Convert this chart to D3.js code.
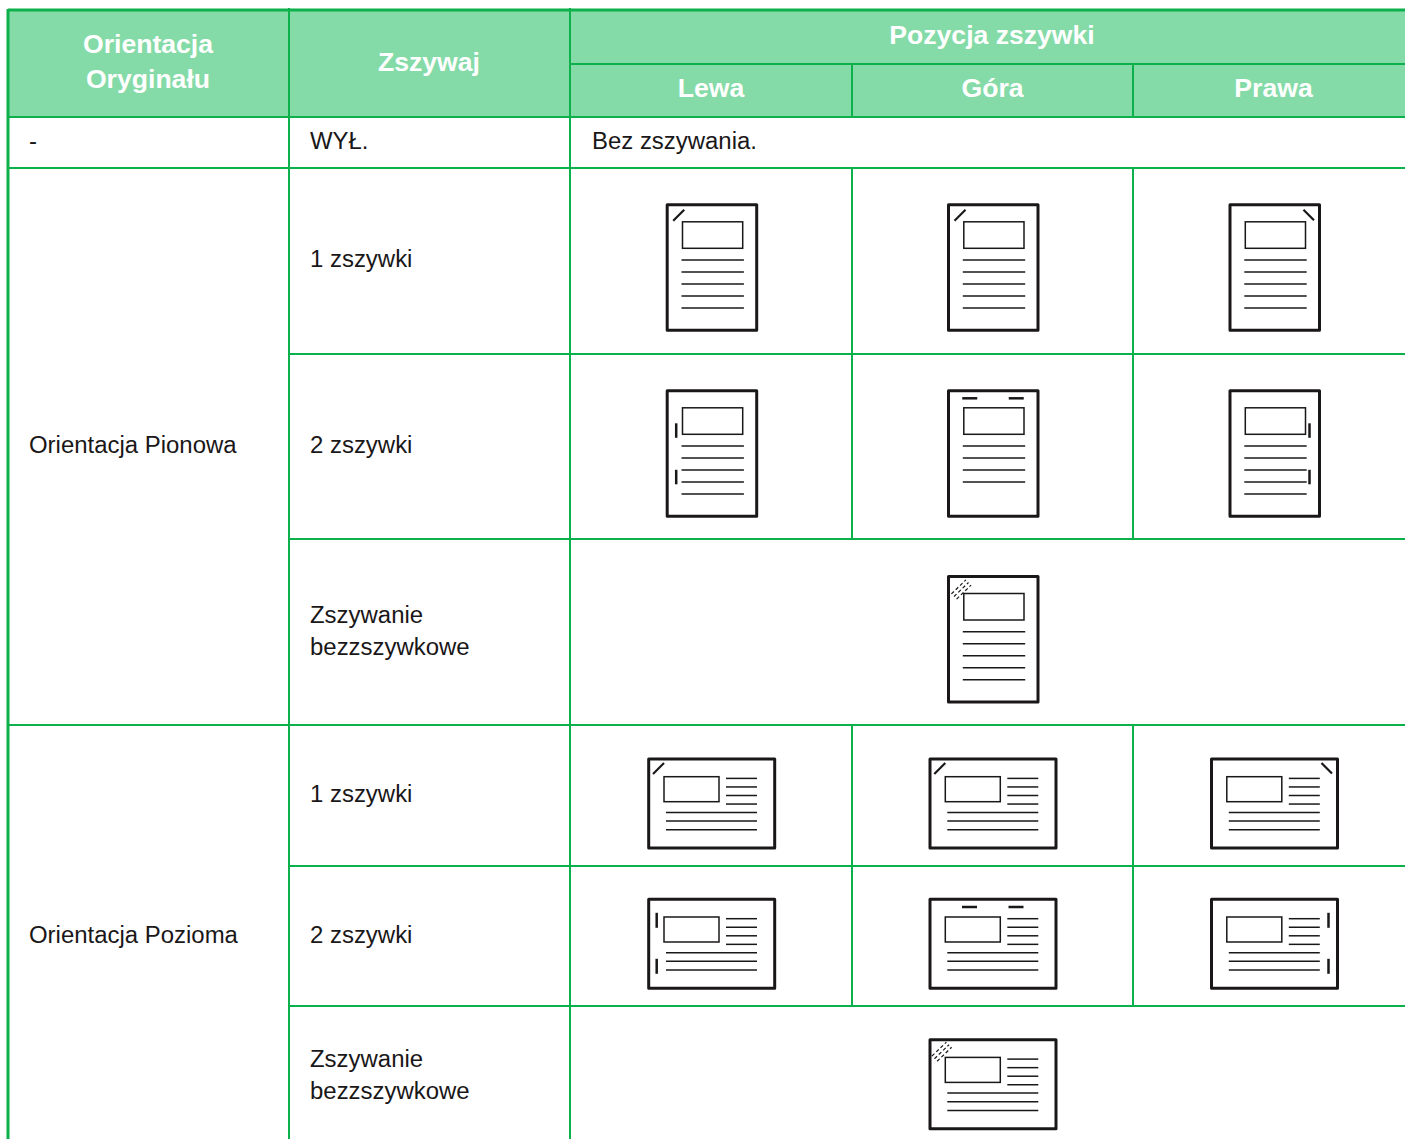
<!DOCTYPE html>
<html>
<head>
<meta charset="utf-8">
<script src="https://cdn.jsdelivr.net/npm/d3@7"></script>
<style>
  html, body { margin: 0; padding: 0; background: #fff; overflow: hidden; }
  text { font-family: "Liberation Sans", Arial, sans-serif; }
</style>
</head>
<body>
<svg id="chart" width="1405" height="1139"></svg>
<script>
// table content
const columns = ["orientation", "staple", "left", "top", "right"];
const positions = ["left", "top", "right"];
const positionLabels = ["Lewa", "Góra", "Prawa"];
const rowKeys = ["off", "p1", "p2", "pNone", "l1", "l2", "lNone"];
const stapleLabels = ["WYŁ.", "1 zszywki", "2 zszywki", "Zszywanie\nbezzszywkowe", "1 zszywki", "2 zszywki", "Zszywanie\nbezzszywkowe"];
const orientationLabels = ["Orientacja Pionowa", "Orientacja Pozioma"];
const iconStaples = [1, 2];

const svg = d3.select("#chart");
const lineColor = "#0DB14B";
const headColor = "#85DBA8";
const inkColor = "#1A1718";

// column + row edges, measured from the page
const x = d3.scaleOrdinal().domain([...columns, "end"]).range([8, 289, 570, 852, 1133, 1420]);
const y = d3.scaleOrdinal().domain([...rowKeys, "end"]).range([117, 168, 354, 539, 725, 866, 1006, 1150]);
const nextRow = (k) => [...rowKeys, "end"][rowKeys.indexOf(k) + 1];

const head = svg.append("g");
const grid = svg.append("g").attr("stroke", lineColor).attr("stroke-width", 2);
const icons = svg.append("g");
const labels = svg.append("g");

// header background
head.append("rect")
  .attr("x", x("orientation")).attr("y", 10)
  .attr("width", 1405 - x("orientation")).attr("height", y("off") - 10)
  .attr("fill", headColor);

// grid lines
const hLine = (yy, x1, x2) => grid.append("line").attr("x1", x1).attr("x2", x2).attr("y1", yy).attr("y2", yy);
const vLine = (xx, y1, y2) => grid.append("line").attr("x1", xx).attr("x2", xx).attr("y1", y1).attr("y2", y2);

hLine(64, x("left"), 1405);
hLine(y("off"), x("orientation"), 1405);
hLine(y("p1"), x("orientation"), 1405);
hLine(y("p2"), x("staple"), 1405);
hLine(y("pNone"), x("staple"), 1405);
hLine(y("l1"), x("orientation"), 1405);
hLine(y("l2"), x("staple"), 1405);
hLine(y("lNone"), x("staple"), 1405);

vLine(x("staple"), 8, 1139);
vLine(x("left"), 8, 1139);
vLine(x("top"), 64, y("off"));
vLine(x("right"), 64, y("off"));
vLine(x("top"), y("p1") - 1, y("pNone"));
vLine(x("right"), y("p1") - 1, y("pNone"));
vLine(x("top"), y("l1"), y("lNone"));
vLine(x("right"), y("l1"), y("lNone"));

hLine(10, x("orientation"), 1405).attr("stroke-width", 3);
vLine(x("orientation"), 9, 1139).attr("stroke-width", 3);

// text
const headText = (cx, cy, s) => labels.append("text")
  .attr("x", cx).attr("y", cy)
  .attr("text-anchor", "middle")
  .attr("font-size", 26.6).attr("font-weight", "bold")
  .attr("fill", "#fff").text(s);

const bodyText = (xx, yy, s) => labels.append("text")
  .attr("x", xx).attr("y", yy)
  .attr("font-size", 23.95).attr("fill", inkColor).text(s);

const colCenter = (c) => (x(c) + x(columns[columns.indexOf(c) + 1] || "end")) / 2;

headText(148, 53, "Orientacja");
headText(148, 88, "Oryginału");
headText(429, 71, "Zszywaj");
headText(992, 44, "Pozycja zszywki");
positions.forEach((p, i) => headText(p === "right" ? 1273.5 : colCenter(p), 97, positionLabels[i]));

bodyText(29, 149, "-");
bodyText(592, 149, "Bez zszywania.");
bodyText(29, 453, orientationLabels[0]);
bodyText(29, 943, orientationLabels[1]);

rowKeys.forEach((k, i) => {
  const parts = stapleLabels[i].split("\n");
  const mid = (y(k) + y(nextRow(k))) / 2;
  if (k === "off") bodyText(310, 149, parts[0]);
  else if (k === "lNone") parts.forEach((s, j) => bodyText(310, 1067 + j * 32, s));
  else if (parts.length > 1) parts.forEach((s, j) => bodyText(310, mid + j * 32 - 9, s));
  else bodyText(310, k === "l2" ? mid + 7 : mid + 6, parts[0]);
});

// document icons
function page(g, w, h) {
  g.append("rect").attr("x", 0).attr("y", 0).attr("width", w).attr("height", h)
    .attr("fill", "#fff").attr("stroke", inkColor).attr("stroke-width", 3).attr("stroke-linejoin", "round");
}
function thin(g, x1, y1, x2, y2, sw) {
  return g.append("line").attr("x1", x1).attr("y1", y1).attr("x2", x2).attr("y2", y2)
    .attr("stroke", inkColor).attr("stroke-width", sw || 1.5);
}

function portrait(cx, top, pos, n) {
  const w = 89.5, h = 125.5;
  const g = icons.append("g").attr("transform", `translate(${cx - 44.7},${top})`);
  page(g, w, h);
  g.append("rect").attr("x", 15.3).attr("y", 17).attr("width", 60.2).attr("height", 26.5)
    .attr("fill", "none").attr("stroke", inkColor).attr("stroke-width", 1.5);
  const count = (n === 2 && pos === "top") ? 4 : 5;
  d3.range(count).forEach((i) => thin(g, 14.3, 55.3 + i * 12, 76.7, 55.3 + i * 12));
  staples(g, w, pos, n, { a: 32.5, b: 79, len: 14.5, inset: 9, top: 7.5, c1: 6, y1: 5, dash: 0 });
}

function landscape(cx, top, pos, n) {
  const w = 126, h = 89;
  const g = icons.append("g").attr("transform", `translate(${cx - 63.2},${top})`);
  page(g, w, h);
  g.append("rect").attr("x", 15.3).attr("y", 17.7).attr("width", 55).attr("height", 25)
    .attr("fill", "none").attr("stroke", inkColor).attr("stroke-width", 1.5);
  d3.range(4).forEach((i) => thin(g, 77.3, 19.4 + i * 8.55, 108.3, 19.4 + i * 8.55));
  d3.range(3).forEach((i) => thin(g, 17.3, 53.4 + i * 8.65, 108.3, 53.4 + i * 8.65));
  staples(g, w, pos, n, { a: 13.5, b: 59.5, len: 15, inset: 8, top: 7.7, c1: 4.3, y1: 4, dash: -1 });
}

function staples(g, w, pos, n, o) {
  if (pos === "none") {
    [-2.6, 0, 2.6].forEach((d) => thin(g, 5.5 + o.dash + d, 20 + o.dash + d, 20 + o.dash + d, 6 + o.dash + d, 1.2)
      .attr("stroke-dasharray", "3.5 2.5"));
    return;
  }
  if (n === 1) {
    if (pos === "right") thin(g, w - 16, o.y1, w - 5.5, o.y1 + 10.5, 2.2);
    else thin(g, o.c1, o.y1 + 11, o.c1 + 11, o.y1, 2.2);
    return;
  }
  if (pos === "top") {
    const c = w / 2;
    [c - 31, c + 15.5].forEach((s) => thin(g, s, o.top, s + 15, o.top, 2.5));
  } else {
    const xx = pos === "left" ? o.inset : w - o.inset - 1;
    [o.a, o.b].forEach((s) => thin(g, xx, s, xx, s + o.len, 2.5));
  }
}

// icon rows built from the same keys
const iconCenter = { left: 711.9, top: 993.2, right: 1274.7 };
iconStaples.forEach((n) => {
  positions.forEach((p) => {
    portrait(iconCenter[p], y(n === 1 ? "p1" : "p2") + 36.8, p, n);
    landscape(iconCenter[p], y(n === 1 ? "l1" : "l2") + (n === 1 ? 34 : 33.3), p, n);
  });
});
portrait(iconCenter.top, y("pNone") + 37.5, "none", 0);
landscape(iconCenter.top, y("lNone") + 33.7, "none", 0);
</script>
</body>
</html>
